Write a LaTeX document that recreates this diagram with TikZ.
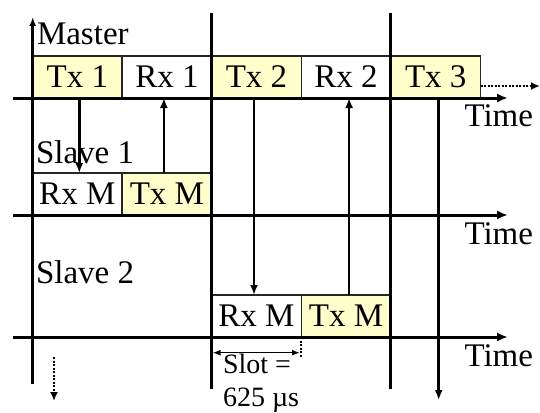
\documentclass[tikz,border=0pt]{standalone}
\usepackage{fontspec}
\setmainfont{Liberation Serif}
\usetikzlibrary{arrows.meta}
\definecolor{txfill}{RGB}{255,255,204}
\begin{document}
\begin{tikzpicture}[x=1pt,y=-1pt,
  every node/.style={font=\fontsize{33}{36}\selectfont,inner sep=0pt,outer sep=0pt},
  slotbox/.style={draw=black!85,line width=1.5pt,minimum width=89.6pt,minimum height=42pt,anchor=center},
  txbox/.style={slotbox,fill=txfill},
  rxbox/.style={slotbox,fill=white},
  axis/.style={line width=3pt,-{Latex[length=11pt,width=9pt]}},
  bar/.style={line width=3pt},
  msg/.style={line width=2.5pt,-{Latex[length=10pt,width=8pt]}},
  dotarrow/.style={line width=2.5pt,dash pattern=on 2pt off 1.5pt,-{Latex[length=9pt,width=8pt,sep=0pt]}},
  slotarrow/.style={line width=1.5pt,{Latex[length=8pt,width=6pt]}-{Latex[length=8pt,width=6pt]}},
  tick/.style={line width=2pt,dash pattern=on 2pt off 1.5pt},
  lbl/.style={anchor=base west},
  timelbl/.style={anchor=base east},
  small/.style={font=\fontsize{28}{33}\selectfont,anchor=base west}
]
\useasboundingbox (0,0) rectangle (540,412);

% master slots
\node[txbox] (Tx1) at (77.3,77) {Tx 1};
\node[rxbox] (Rx1) at (166.9,77) {Rx 1};
\node[txbox] (Tx2) at (256.5,77) {Tx 2};
\node[rxbox] (Rx2) at (346.1,77) {Rx 2};
\node[txbox] (Tx3) at (435.7,77) {Tx 3};
% slave 1 slots
\node[rxbox] (S1Rx) at (77.3,194) {Rx M};
\node[txbox] (S1Tx) at (166.9,194) {Tx M};
% slave 2 slots
\node[rxbox] (S2Rx) at (256.5,316) {Rx M};
\node[txbox] (S2Tx) at (346.1,316) {Tx M};

% labels
\node[lbl] (master) at (37,45) {Master};
\node[lbl] (slave1) at (36,163) {Slave 1};
\node[lbl] (slave2) at (36,283) {Slave 2};
\node[timelbl] (time0) at (533,126) {Time};
\node[timelbl] (time1) at (533,244) {Time};
\node[timelbl] (time2) at (533,366) {Time};
\node[small] (slotA) at (223,373) {Slot =};
\node[small] (slotB) at (223,406) {625 µs};

% axes
\coordinate (m0) at (13,98);   \coordinate (m1) at (508,98);
\coordinate (a0) at (13,215);  \coordinate (a1) at (508,215);
\coordinate (b0) at (13,337);  \coordinate (b1) at (508,337);
\draw[axis] (m0) -- (m1);
\draw[axis] (a0) -- (a1);
\draw[axis] (b0) -- (b1);

% vertical lines
\coordinate (v0b) at (32.7,384); \coordinate (v0t) at (32.7,17);
\coordinate (v1t) at (211.5,13); \coordinate (v1b) at (211.5,389);
\coordinate (v2t) at (390.9,13); \coordinate (v2b) at (390.9,389);
\draw[line width=3pt,-{Latex[length=9pt,width=7pt]}] (v0b) -- (v0t);
\draw[bar] (v1t) -- (v1b);
\draw[bar] (v2t) -- (v2b);

% messages
\draw[msg] ([xshift=2pt]Tx1.south) -- ([xshift=2pt]S1Rx.north);
\draw[msg] ([xshift=-3pt]S1Tx.north) -- ([xshift=-3pt]Rx1.south);
\draw[msg] ([xshift=-2.5pt]Tx2.south) -- ([xshift=-2.5pt]S2Rx.north);
\draw[msg] ([xshift=3pt]S2Tx.north) -- ([xshift=3pt]Rx2.south);
\coordinate (t3end) at (438.7,400);
\draw[msg] ([xshift=3pt]Tx3.south) -- (t3end);

% dotted continuation arrows
\coordinate (dotR) at (540,86);
\draw[dotarrow] ([yshift=-9pt]Tx3.east) -- (dotR);
\coordinate (dl0) at (54,357); \coordinate (dl1) at (54,401);
\draw[dotarrow] (dl0) -- (dl1);

% slot width
\coordinate (sl0) at (212.5,352.7); \coordinate (sl1) at (300,352.7);
\draw[slotarrow] (sl0) -- (sl1);
\coordinate (tk1) at (301.3,358);
\draw[tick] (S2Tx.south west) -- (tk1);
\end{tikzpicture}
\end{document}
